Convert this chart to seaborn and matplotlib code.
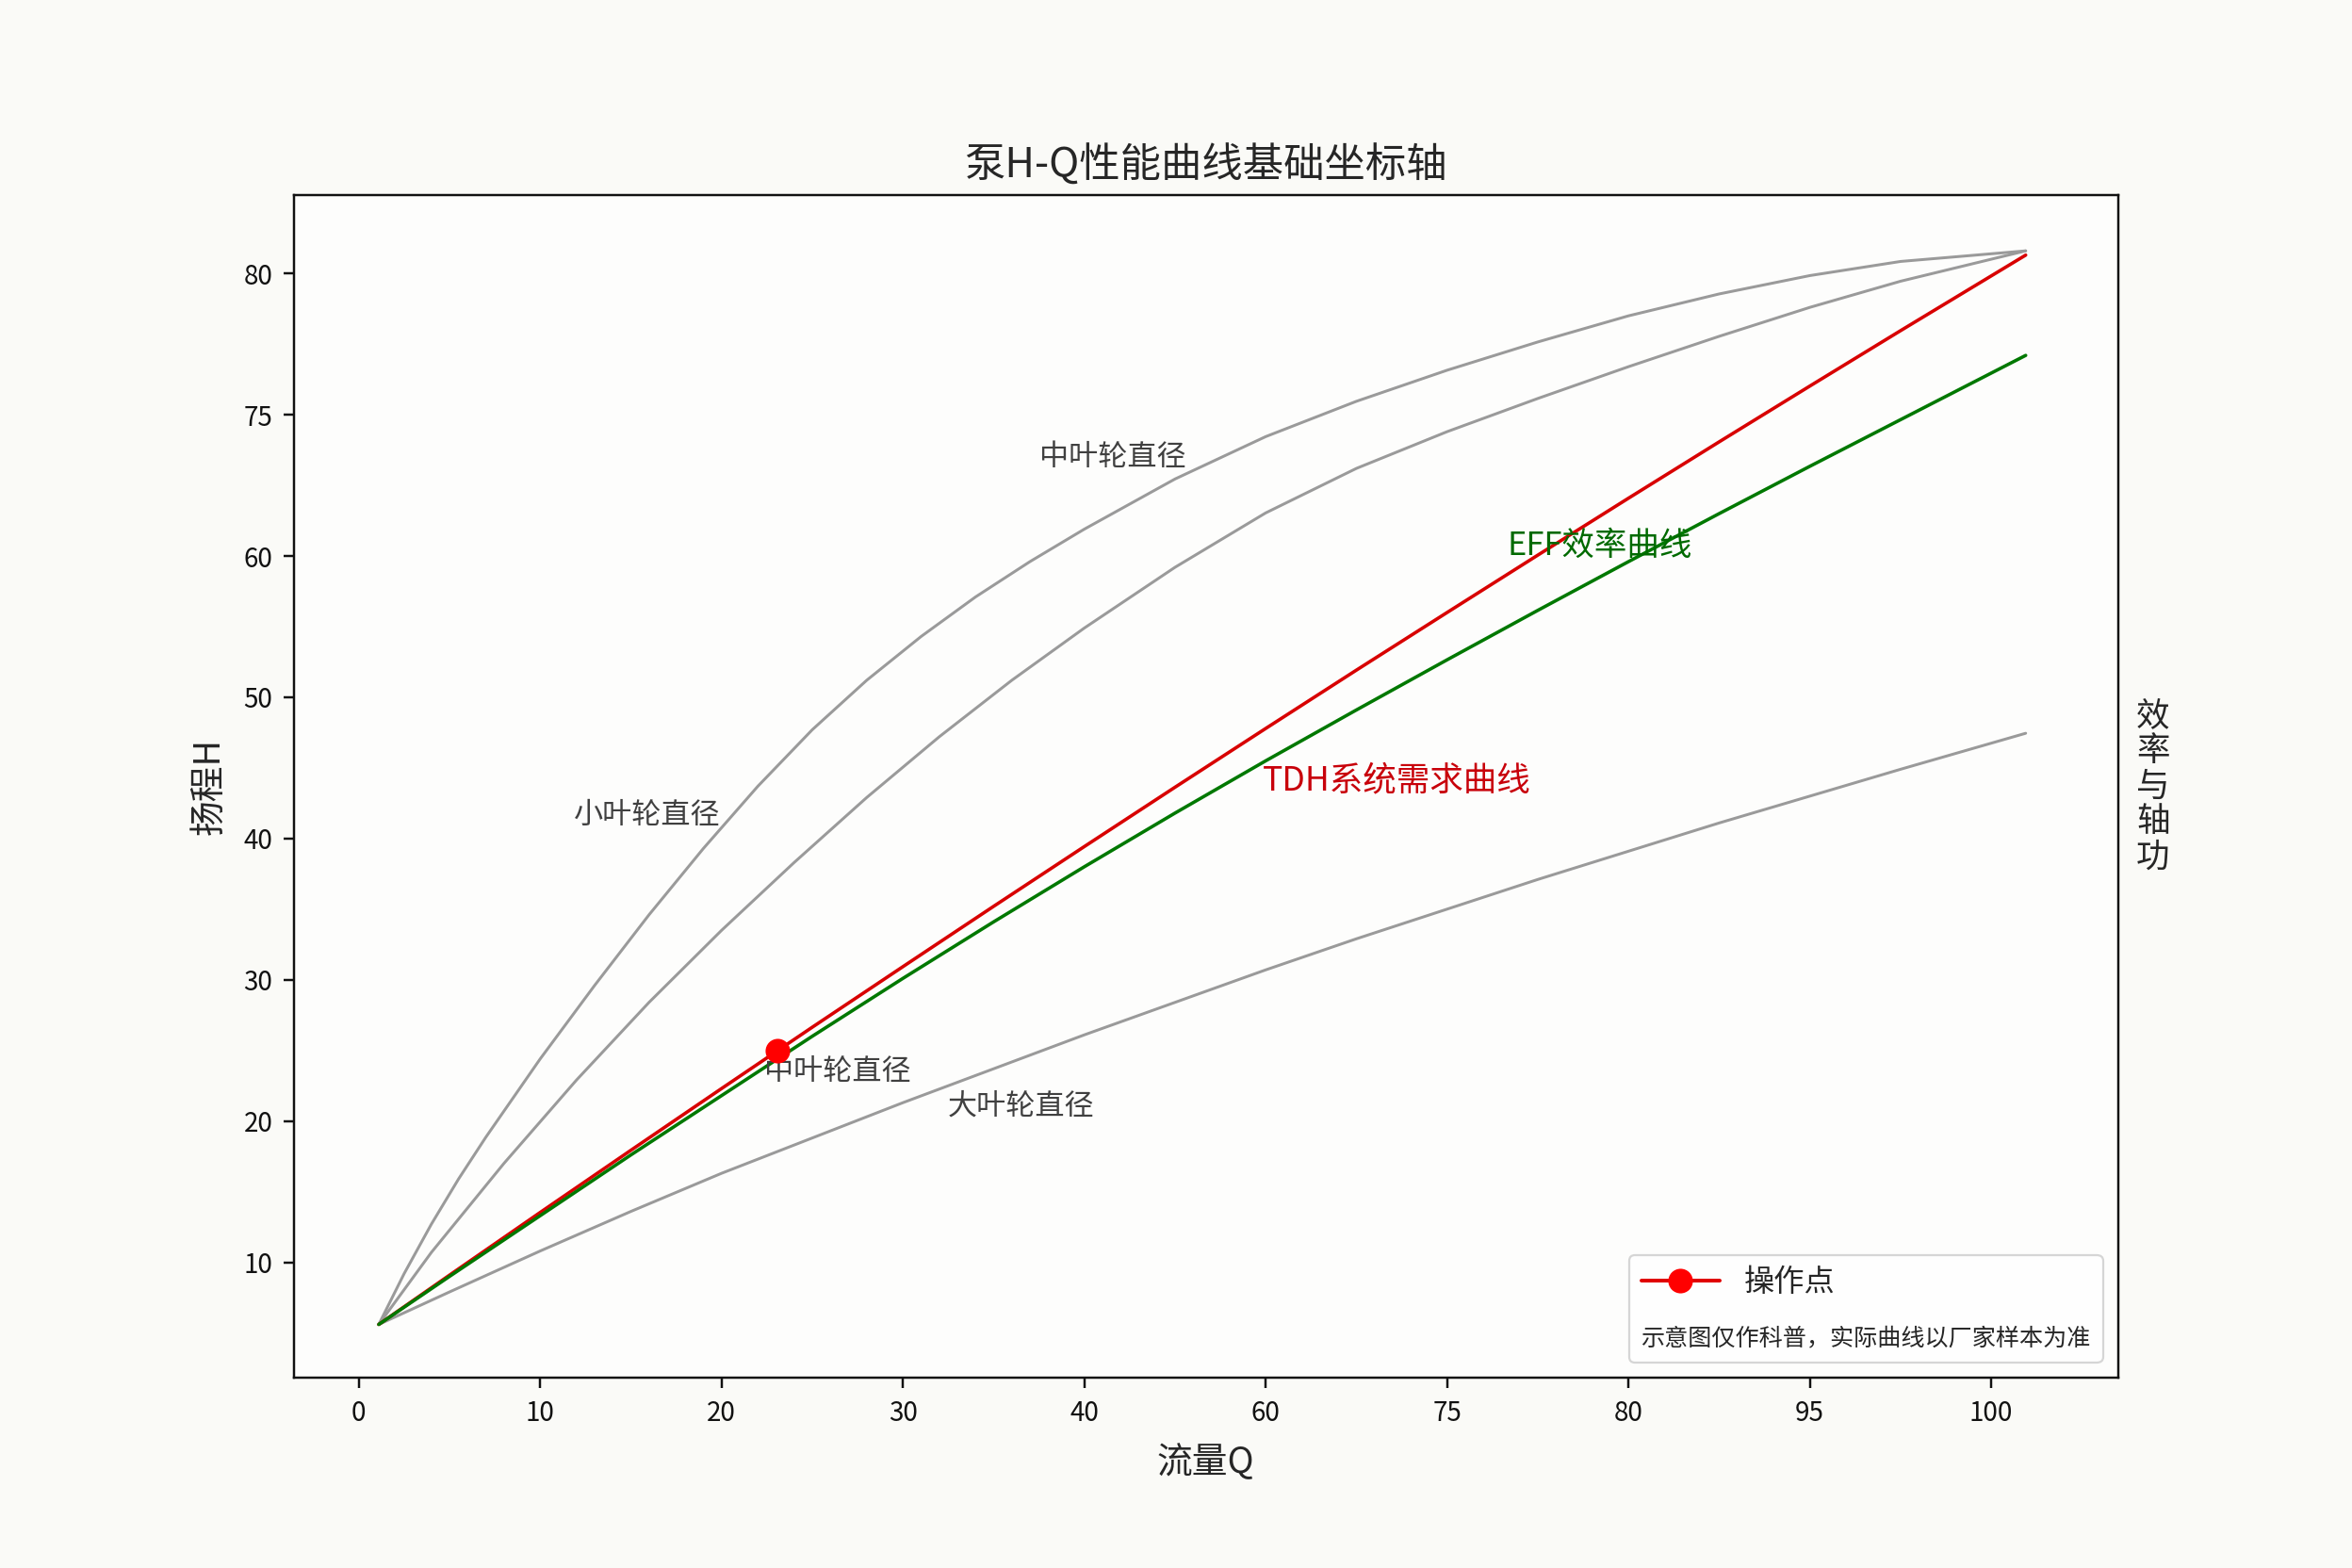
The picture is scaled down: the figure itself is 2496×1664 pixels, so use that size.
import matplotlib
matplotlib.use("Agg")
import matplotlib.pyplot as plt
import seaborn as sns

# ---------------- data ----------------
q_small = [1.1, 2.5, 4, 5.5, 7, 10, 13, 16, 19, 22, 25, 28, 31, 34, 37, 40, 45, 50, 55, 60,
           65, 70, 75, 80, 85, 91.9]
h_small_imp = [5.6, 9.2, 12.7, 15.9, 18.85, 24.4, 29.6, 34.6, 39.3, 43.7, 47.7, 51.2, 54.3,
               57.1, 59.6, 61.9, 65.45, 68.45, 70.95, 73.15, 75.15, 77.0, 78.55, 79.85, 80.85, 81.6]
q_mid = [1.1, 4, 8, 12, 16, 20, 24, 28, 32, 36, 40, 45, 50, 55, 60, 65, 70, 75, 80, 85, 91.9]
h_mid_imp = [5.6, 10.7, 17.0, 22.9, 28.4, 33.5, 38.3, 42.9, 47.2, 51.2, 54.9, 59.2, 63.05,
             66.2, 68.8, 71.15, 73.4, 75.55, 77.6, 79.45, 81.6]
q_large = [1.1, 5, 10, 15, 20, 25, 30, 35, 40, 45, 50, 55, 60, 65, 70, 75, 80, 85, 91.9]
h_large_imp = [5.6, 7.9, 10.8, 13.6, 16.3, 18.8, 21.3, 23.7, 26.1, 28.4, 30.7, 32.9, 35.0,
               37.1, 39.1, 41.1, 43.0, 44.9, 47.45]
q_tdh = [1.1, 5, 10, 15, 20, 25, 30, 35, 40, 45, 50, 55, 60, 65, 70, 75, 80, 85, 91.9]
h_tdh = [5.6, 9.09, 13.53, 17.93, 22.30, 26.64, 30.93, 35.20, 39.43, 43.63, 47.79, 51.92,
         56.00, 60.06, 64.09, 68.08, 72.03, 75.95, 81.3]
q_eff = [1.1, 5, 10, 15, 20, 25, 30, 35, 40, 45, 50, 55, 60, 65, 70, 75, 80, 85, 91.9]
h_eff = [5.6, 9.0, 13.3, 17.6, 21.8, 26.0, 30.1, 34.1, 38.0, 41.8, 45.5, 49.1, 52.65, 56.15,
         59.6, 63.0, 66.35, 69.65, 74.2]
op_q = [23.1]
op_h = [25.0]

x_tick_pos = [0, 10, 20, 30, 40, 50, 60, 70, 80, 90]
x_tick_labels = ["0", "10", "20", "30", "40", "60", "75", "80", "95", "100"]
y_tick_pos = [10, 20, 30, 40, 50, 60, 70, 80]
y_tick_labels = ["10", "20", "30", "40", "50", "60", "75", "80"]

title = "泵H-Q性能曲线基础坐标轴"
x_label = "流量Q"
y_label = "扬程H"
y2_label = "效\n率\n与\n轴\n功"
legend_label = "操作点"
legend_note = "示意图仅作科普，实际曲线以厂家样本为准"

# ---------------- style ----------------
sns.set_theme(style="ticks")
plt.rcParams["font.family"] = ["Noto Sans CJK SC", "DejaVu Sans"]
plt.rcParams["axes.unicode_minus"] = False

fig, ax = plt.subplots(figsize=(15.6, 10.4), dpi=160)
fig.patch.set_facecolor("#fafaf7")
ax.set_facecolor("#fdfdfc")
fig.subplots_adjust(left=0.1248, right=0.9006, top=0.8756, bottom=0.1211)

gray = "#9a9a9a"
common = dict(ax=ax, estimator=None, sort=False)
sns.lineplot(x=q_small, y=h_small_imp, color=gray, lw=1.35, **common)
sns.lineplot(x=q_mid, y=h_mid_imp, color=gray, lw=1.35, **common)
sns.lineplot(x=q_large, y=h_large_imp, color=gray, lw=1.35, **common)
sns.lineplot(x=q_tdh, y=h_tdh, color="#d80000", lw=1.6, **common)
sns.lineplot(x=q_eff, y=h_eff, color="#007800", lw=1.6, **common)
sns.lineplot(x=op_q, y=op_h, color="#e00000", lw=1.8, marker="o", markersize=11,
             markeredgecolor="#ff0000", markerfacecolor="#ff0000",
             label=legend_label, zorder=5, **common)

# curve annotations
ax.text(41.55, 67.0, "中叶轮直径", ha="center", va="center", fontsize=14, color="#404040")
ax.text(15.9, 41.6, "小叶轮直径", ha="center", va="center", fontsize=14, color="#404040")
ax.text(26.4, 23.5, "中叶轮直径", ha="center", va="center", fontsize=14, color="#404040")
ax.text(36.5, 21.05, "大叶轮直径", ha="center", va="center", fontsize=14, color="#404040")
ax.text(57.2, 44.1, "TDH系统需求曲线", ha="center", va="center", fontsize=16, color="#c8000a")
ax.text(68.4, 60.7, "EFF效率曲线", ha="center", va="center", fontsize=15.5, color="#006a00")

ax.set_xlim(-3.6, 97.0)
ax.set_ylim(1.8, 85.55)
ax.set_xticks(x_tick_pos)
ax.set_xticklabels(x_tick_labels)
ax.set_yticks(y_tick_pos)
ax.set_yticklabels(y_tick_labels)
ax.tick_params(length=5, width=1.1, pad=5, labelsize=12.5, colors="#111111")

for s in ax.spines.values():
    s.set_visible(True)
    s.set_linewidth(1.1)
    s.set_color("#111111")

ax.set_xlabel(x_label, fontsize=17, va="center")
ax.xaxis.set_label_coords(0.5, -0.072)
ax.set_ylabel(y_label, fontsize=17, va="center")
ax.yaxis.set_label_coords(-0.046, 0.5)
ax.set_title(title, fontsize=19.5, y=1.024, pad=0, va="center")

# secondary axis label (no ticks)
ax2 = ax.twinx()
ax2.set_yticks([])
ax2.set_ylim(ax.get_ylim())
for s in ax2.spines.values():
    s.set_visible(False)
ax2.set_ylabel(y2_label, rotation=0, fontsize=16, linespacing=1.05, ha="center", va="center")
ax2.yaxis.set_label_coords(1.019, 0.5)

# legend with the note placed below the entry
leg = ax.legend(loc="lower right", fontsize=14.5, title=legend_note, title_fontsize=11.3,
                alignment="left", handlelength=2.6, frameon=True, fancybox=True,
                borderaxespad=0.5, borderpad=0.4, labelspacing=0.95)
leg.get_frame().set_edgecolor("#cccccc")
leg.get_frame().set_facecolor("white")
leg._legend_box._children = list(reversed(leg._legend_box._children))
leg.set_zorder(10)

fig.savefig("out.png", dpi=160, facecolor=fig.get_facecolor())
